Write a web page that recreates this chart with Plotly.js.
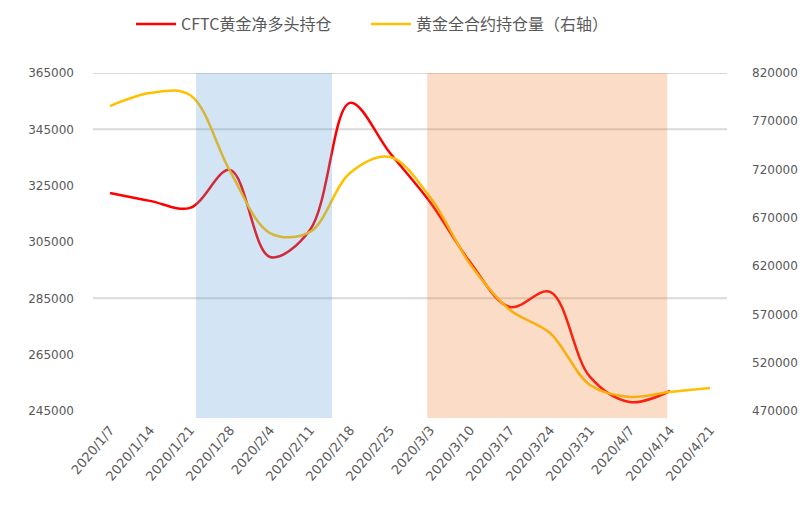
<!DOCTYPE html>
<html>
<head>
<meta charset="utf-8">
<script src="https://cdn.plot.ly/plotly-3.0.1.min.js"></script>
<style>html,body{margin:0;padding:0;background:#fff;}#chart{width:809px;height:509px;}</style>
</head>
<body>
<div id="chart"></div>
<script>
const dates = ['2020/1/7','2020/1/14','2020/1/21','2020/1/28','2020/2/4','2020/2/11','2020/2/18','2020/2/25','2020/3/3','2020/3/10','2020/3/17','2020/3/24','2020/3/31','2020/4/7','2020/4/14','2020/4/21'];
const cftcNetLong = [322400, 319600, 317100, 330600, 299700, 309300, 354400, 336600, 319200, 297900, 281900, 287300, 257100, 248200, 252100];
const openInterest = [785800, 799300, 797200, 718500, 654300, 655400, 716500, 733000, 691600, 622200, 574600, 550800, 496900, 484500, 489700, 493800];
const gridValues = [365000, 345000, 285000];
const seriesNames = ['CFTC黄金净多头持仓', '黄金全合约持仓量（右轴）'];

const idx = arr => arr.map((_, i) => i);
const tickFont = {family: 'DejaVu Sans, Noto Sans CJK SC', size: 12, color: '#595959'};

const traces = [
  {x: idx(cftcNetLong), y: cftcNetLong, name: seriesNames[0], type: 'scatter', mode: 'lines',
   line: {color: '#ff0000', width: 2.5, shape: 'spline', smoothing: 1}, yaxis: 'y'},
  {x: idx(openInterest), y: openInterest, name: seriesNames[1], type: 'scatter', mode: 'lines',
   line: {color: '#ffc000', width: 2.5, shape: 'spline', smoothing: 1}, yaxis: 'y2'}
];

const shapes = gridValues.map(v => ({type: 'line', xref: 'paper', yref: 'y', x0: 0, x1: 1, y0: v, y1: v,
  line: {color: '#d9d9d9', width: 2}, layer: 'below'}));
shapes.push({type: 'rect', xref: 'x', yref: 'paper', x0: 2.15, x1: 5.55, y0: -0.021, y1: 1,
  fillcolor: 'rgba(91,155,213,0.27)', line: {width: 0}, layer: 'above'});
shapes.push({type: 'rect', xref: 'x', yref: 'paper', x0: 7.93, x1: 13.93, y0: -0.021, y1: 1,
  fillcolor: 'rgba(237,125,49,0.27)', line: {width: 0}, layer: 'above'});

const layout = {
  width: 809, height: 509,
  margin: {l: 93, r: 82, t: 73, b: 98, autoexpand: false},
  paper_bgcolor: '#fff', plot_bgcolor: '#fff',
  showlegend: true,
  legend: {orientation: 'h', x: 0.06, y: 1.145, xanchor: 'left', yanchor: 'middle',
    font: {family: 'Noto Sans CJK SC', size: 16, color: '#595959'},
    entrywidth: 180, entrywidthmode: 'pixels', itemwidth: 40},
  xaxis: {range: [-0.425, 15.425], tickmode: 'array', tickvals: idx(dates), ticktext: dates,
    tickangle: -50, tickfont: {family: 'DejaVu Sans', size: 13, color: '#595959'},
    showgrid: false, zeroline: false, showline: false, ticks: '', ticklabelstandoff: 8},
  yaxis: {range: [245000, 365000], tick0: 245000, dtick: 20000, tickformat: 'd', tickfont: tickFont,
    showgrid: false, zeroline: false, showline: false, ticks: '', ticklabelstandoff: 18},
  yaxis2: {range: [470000, 820000], tick0: 470000, dtick: 50000, tickformat: 'd', tickfont: tickFont,
    overlaying: 'y', side: 'right', showgrid: false, zeroline: false, showline: false, ticks: '',
    ticklabelstandoff: 24},
  shapes: shapes
};

Plotly.newPlot('chart', traces, layout, {displayModeBar: false, staticPlot: true});
</script>
</body>
</html>
